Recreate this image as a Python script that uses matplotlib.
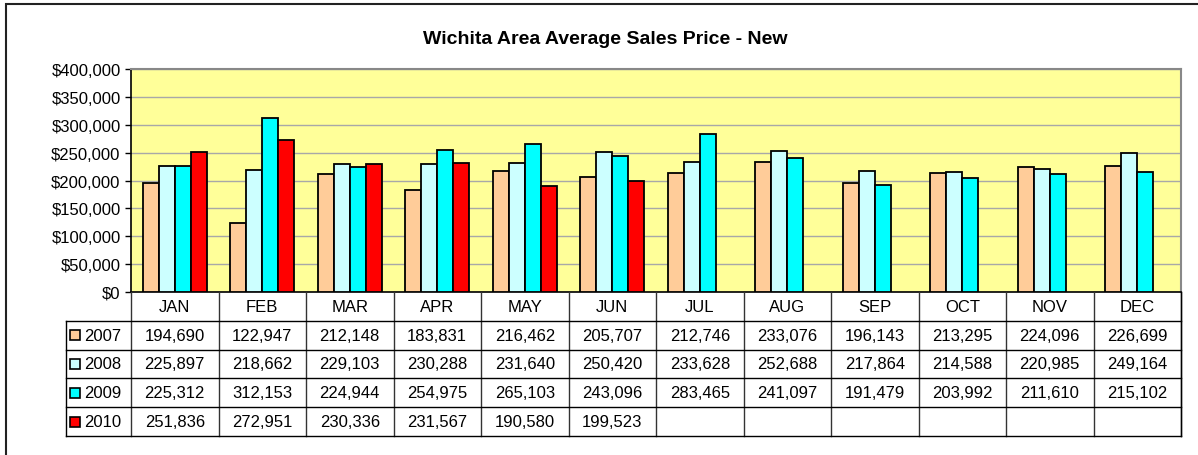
import numpy as np
import matplotlib.pyplot as plt
from matplotlib.patches import Rectangle

plt.rcParams['font.family'] = ['Liberation Sans', 'DejaVu Sans']

# data
months = ['JAN', 'FEB', 'MAR', 'APR', 'MAY', 'JUN', 'JUL', 'AUG', 'SEP', 'OCT', 'NOV', 'DEC']
years = ['2007', '2008', '2009', '2010']
p2007 = [194690, 122947, 212148, 183831, 216462, 205707, 212746, 233076, 196143, 213295, 224096, 226699]
p2008 = [225897, 218662, 229103, 230288, 231640, 250420, 233628, 252688, 217864, 214588, 220985, 249164]
p2009 = [225312, 312153, 224944, 254975, 265103, 243096, 283465, 241097, 191479, 203992, 211610, 215102]
p2010 = [251836, 272951, 230336, 231567, 190580, 199523]
colors = ['#FFCC99', '#CCFFFF', '#00FFFF', '#FF0000']
series = [p2007, p2008, p2009, p2010]

W, H = 1198, 456
fig = plt.figure(figsize=(W / 100, H / 100), dpi=100)

# outer chart frame (runs off the right/bottom edge in the original)
fig.patches.append(Rectangle((6 / W, -0.05), 1.2, 1 - 5 / H + 0.05, transform=fig.transFigure,
                             fill=False, edgecolor='#222222', lw=1.5))

left, right, top, bottom = 131, 1181, 70, 293
ax = fig.add_axes([left / W, 1 - bottom / H, (right - left) / W, (bottom - top) / H])
ax.set_facecolor('#FFFF99')

bw = 0.183
x = np.arange(len(months))
for i, (vals, c) in enumerate(zip(series, colors)):
    xs = x[:len(vals)] + (i - 1.5) * bw
    ax.bar(xs, vals, width=bw, color=c, edgecolor='black', linewidth=1.3, zorder=3)

ax.set_xlim(-0.5, len(months) - 0.5)
ax.set_ylim(0, 400000)
ax.set_yticks(np.arange(0, 400001, 50000))
ax.set_yticklabels(['$' + format(v, ',') for v in range(0, 400001, 50000)], fontsize=12)
ax.yaxis.grid(True, color='#A8A8A8', lw=1, zorder=0)
ax.set_xticks([])
ax.tick_params(axis='y', direction='out', length=4.5, width=1, pad=3)
for s in ['top', 'right']:
    ax.spines[s].set_color('#888888')
    ax.spines[s].set_linewidth(1.5)
ax.spines['left'].set_linewidth(1.2)
ax.spines['bottom'].set_linewidth(1.2)

fig.text(605 / W, 1 - 40 / H, 'Wichita Area Average Sales Price - New', ha='center', va='center',
         fontsize=14, fontweight='bold')

# data table under the plot
row_h = 28.8
n = len(months)
cw = (right - left) / n
leg_left = 66
tbl_bottom = bottom + row_h * (len(years) + 1)
lc = 'black'
lw = 1.0

def line(x0, y0, x1, y1, color=lc, width=lw):
    fig.add_artist(plt.Line2D([x0 / W, x1 / W], [1 - y0 / H, 1 - y1 / H], color=color, lw=width))

# header row
for j, m in enumerate(months):
    fig.text((left + cw * (j + 0.5)) / W, 1 - (bottom + row_h / 2) / H, m,
             ha='center', va='center', fontsize=12)
for j in range(n + 1):
    line(left + cw * j, bottom, left + cw * j, tbl_bottom, color='#333333')
line(right, bottom, right, tbl_bottom)
line(leg_left, bottom + row_h, leg_left, tbl_bottom)
for r in range(1, len(years) + 2):
    line(leg_left, bottom + row_h * r, right, bottom + row_h * r)

for r, (yr, vals, c) in enumerate(zip(years, series, colors)):
    yc = bottom + row_h * (r + 1.5)
    sw = 10
    fig.patches.append(Rectangle(((leg_left + 4) / W, 1 - (yc + sw / 2) / H), sw / W, sw / H,
                                 transform=fig.transFigure, facecolor=c, edgecolor='black', lw=1.2))
    fig.text((leg_left + 18) / W, 1 - yc / H, yr, ha='left', va='center', fontsize=12)
    for j, v in enumerate(vals):
        fig.text((left + cw * (j + 0.5)) / W, 1 - yc / H, format(v, ','),
                 ha='center', va='center', fontsize=12)

fig.savefig('out.png', dpi=100)
